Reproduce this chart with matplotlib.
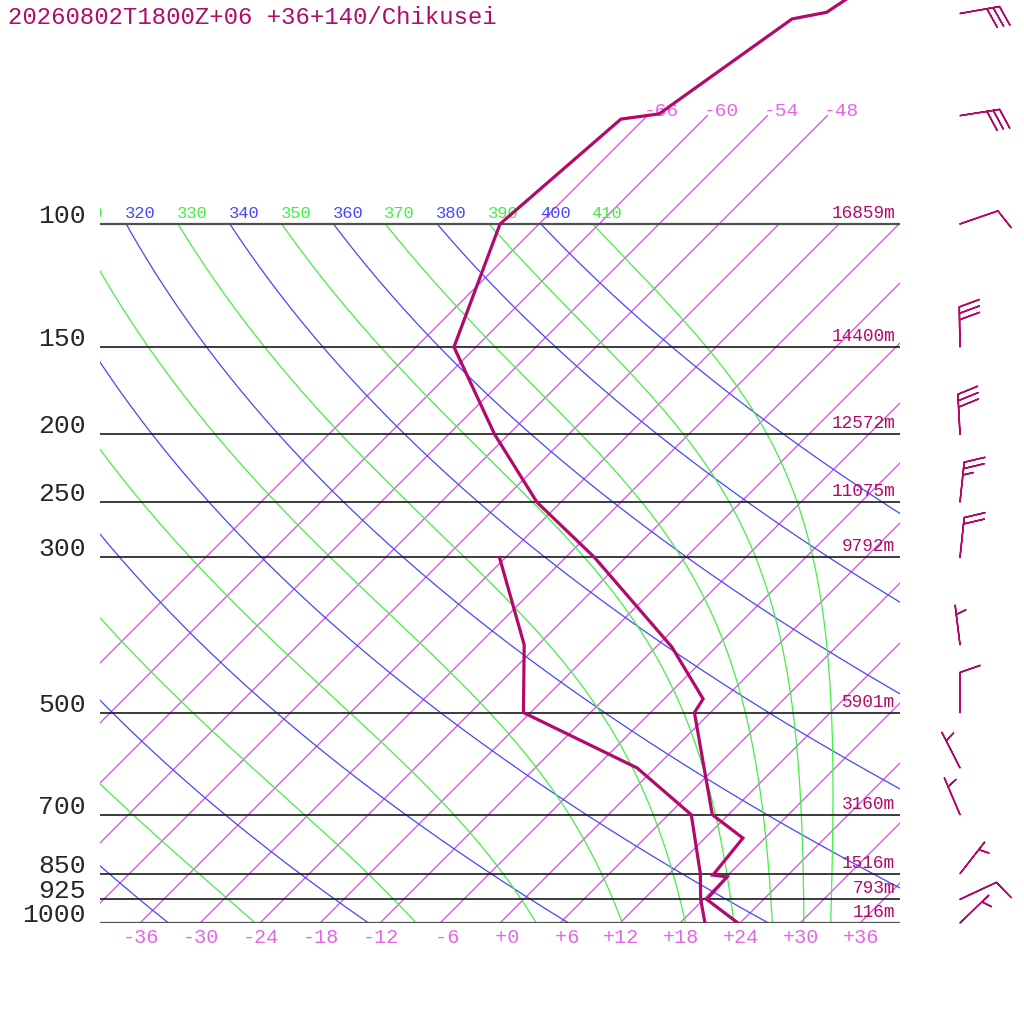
import numpy as np
import matplotlib.pyplot as plt

TITLE = "20260802T1800Z+06 +36+140/Chikusei"

LEVELS = [1000, 925, 850, 700, 500, 300, 250, 200, 150, 100]
HEIGHTS = ["116m", "793m", "1516m", "3160m", "5901m",
           "9792m", "11075m", "12572m", "14400m", "16859m"]

TEMP_P = [1000, 925, 859, 854, 756, 700, 500, 478, 403, 300, 250, 200, 150,
          100, 70.8, 69.6, 50.9, 49.8, 40]
TEMP_C = [23.8, 18.3, 18.1, 16.5, 15.8, 10.4, -1.6, -2.1, -10.4, -27.1, -38.4,
          -49.4, -62.2, -69.9, -68.3, -65.0, -61.2, -58.4, -55.1]

DEW_P = [1000, 925, 850, 700, 600, 500, 400, 300]
DEW_C = [20.5, 17.7, 15.1, 8.3, -1.8, -18.7, -25.4, -36.6]

WIND_P = [1000, 925, 850, 700, 600, 500, 400, 300, 250, 200, 150, 100, 70, 50]
WIND_DIR = [46, 65, 38, 337, 333, 0, 353, 6, 6, 357, 359, 71, 81, 80]
WIND_SPD = [5, 10, 5, 5, 5, 10, 5, 20, 25, 30, 30, 10, 30, 30]

ISOTHERMS = list(range(-66, 37, 6))
ISOTHERMS_HIGH = [-66, -60, -54, -48]     # these run on up to 70 hPa
BOTTOM_TEMPS = list(range(-36, 37, 6))
THETA_DRY = list(range(240, 401, 20))     # blue
THETA_MOIST = list(range(250, 411, 20))   # green

# --- layout -----------------------------------------------------------------
PX_PER_C = 10.0
PX_PER_LN = 303.6
SKEW = PX_PER_LN / PX_PER_C
P_TOP = 1000.0 * np.exp(-923 / PX_PER_LN)

C_PROFILE = "#b3096b"
C_ISO = "#d24ee0"
C_ISO_TXT = "#e466e8"
C_GREEN = "#44ee44"
C_BLUE = "#4646ff"
MONO = ["Liberation Mono", "DejaVu Sans Mono"]

RD, CP, LV, EPS = 287.04, 1005.7, 2.501e6, 0.622
KAPPA = RD / CP


def skx(t, p):
    return np.asarray(t, float) + SKEW * np.log(1000.0 / np.asarray(p, float))


def moist_adiabat(theta_e, p):
    """Pseudo-adiabat starting dry at the first (lowest) pressure of p."""
    def dtdp(tk, pp):
        es = 6.112 * np.exp(17.67 * (tk - 273.15) / (tk - 29.65))
        rs = EPS * es / (pp - es)
        num = RD * tk + LV * rs
        den = CP + LV * LV * rs * EPS / (RD * tk * tk)
        return num / (pp * den)

    tk = theta_e * (p[0] / 1000.0) ** KAPPA
    out = [tk]
    for p0, p1 in zip(p[:-1], p[1:]):
        dp = p1 - p0
        k1 = dtdp(tk, p0)
        k2 = dtdp(tk + 0.5 * dp * k1, p0 + 0.5 * dp)
        k3 = dtdp(tk + 0.5 * dp * k2, p0 + 0.5 * dp)
        k4 = dtdp(tk + dp * k3, p1)
        tk = tk + dp * (k1 + 2 * k2 + 2 * k3 + k4) / 6.0
        out.append(tk)
    return np.array(out) - 273.15


fig = plt.figure(figsize=(10.24, 10.24), dpi=100)
ax = fig.add_axes([100 / 1024, 101 / 1024, 800 / 1024, 923 / 1024])
ax.set_yscale("log")
ax.set_xlim(-40, 40)
ax.set_ylim(1000, P_TOP)
ax.axis("off")

# isotherms
for t in ISOTHERMS:
    top = 70 if t in ISOTHERMS_HIGH else 100
    pp = np.array([1000.0, top])
    ax.plot(skx([t, t], pp), pp, color=C_ISO, lw=0.9, zorder=2)
for t in ISOTHERMS_HIGH:
    ax.annotate(f"{t:+3d}", xy=(skx(t, 70), 70), xytext=(-3, -4),
                textcoords="offset pixels", ha="left", va="bottom",
                color=C_ISO_TXT, fontsize=14, family=MONO, zorder=3)

# adiabats
p_line = np.exp(np.linspace(np.log(100), np.log(1000), 300))
for th in THETA_DRY:
    tc = th * (p_line / 1000.0) ** KAPPA - 273.15
    ax.plot(skx(tc, p_line), p_line, color=C_BLUE, lw=0.9, zorder=2)
for th in THETA_MOIST:
    tc = moist_adiabat(th, p_line)
    ax.plot(skx(tc, p_line), p_line, color=C_GREEN, lw=0.9, zorder=2)

labels = sorted([(th, C_BLUE) for th in THETA_DRY] + [(th, C_GREEN) for th in THETA_MOIST])
for th, col in labels:
    x0 = skx(th * 0.1 ** KAPPA - 273.15, 100)
    ax.annotate(f"{th}", xy=(x0, 100), xytext=(-1, 3), textcoords="offset pixels",
                ha="left", va="bottom", color=col, fontsize=12.3, family=MONO,
                annotation_clip=False, clip_on=True, zorder=3)

# pressure lines, labels and heights
for p, h in zip(LEVELS, HEIGHTS):
    edge = p in (100, 1000)
    ax.plot([-40, 40], [p, p], color="#505050" if edge else "#1a1a1a",
            lw=1.6 if edge else 1.2, zorder=4)
    ax.annotate(str(p), xy=(0, p), xycoords=("axes fraction", "data"),
                xytext=(-14, 8), textcoords="offset pixels", ha="right", va="center",
                color="#262626", fontsize=19, family=MONO, annotation_clip=False)
    ax.annotate(h, xy=(1, p), xycoords=("axes fraction", "data"),
                xytext=(-5, 2), textcoords="offset pixels", ha="right", va="bottom",
                color=C_PROFILE, fontsize=12.8, family=MONO, zorder=5)

for t in BOTTOM_TEMPS:
    ax.annotate(f"{t:+3d}", xy=(t, 1000), xytext=(1, -5), textcoords="offset pixels",
                ha="center", va="top", color=C_ISO_TXT, fontsize=14.5, family=MONO,
                annotation_clip=False)

# profiles
ax.plot(skx(TEMP_C, TEMP_P), TEMP_P, color=C_PROFILE, lw=2.3, zorder=6,
        solid_joinstyle="miter")
ax.plot(skx(DEW_C, DEW_P), DEW_P, color=C_PROFILE, lw=2.3, zorder=6,
        solid_joinstyle="miter")

# wind barbs
axw = fig.add_axes([940 / 1024, 101 / 1024, 84 / 1024, 923 / 1024])
axw.set_yscale("log")
axw.set_xlim(-20, 64)
axw.set_ylim(1000, P_TOP)
axw.axis("off")
rad = np.deg2rad(WIND_DIR)
spd = np.asarray(WIND_SPD, float)
u = -spd * np.sin(rad)
v = -spd * np.cos(rad)
axw.barbs(np.zeros(len(WIND_P)), WIND_P, u, v, length=7.6, color=C_PROFILE,
          linewidth=1.1, sizes=dict(height=0.5, width=0.35, spacing=0.16),
          clip_on=False)

fig.text(8 / 1024, 1 - 6 / 1024, TITLE, ha="left", va="top", color=C_PROFILE,
         fontsize=17.2, family=MONO)

fig.savefig("out.png", dpi=100)
